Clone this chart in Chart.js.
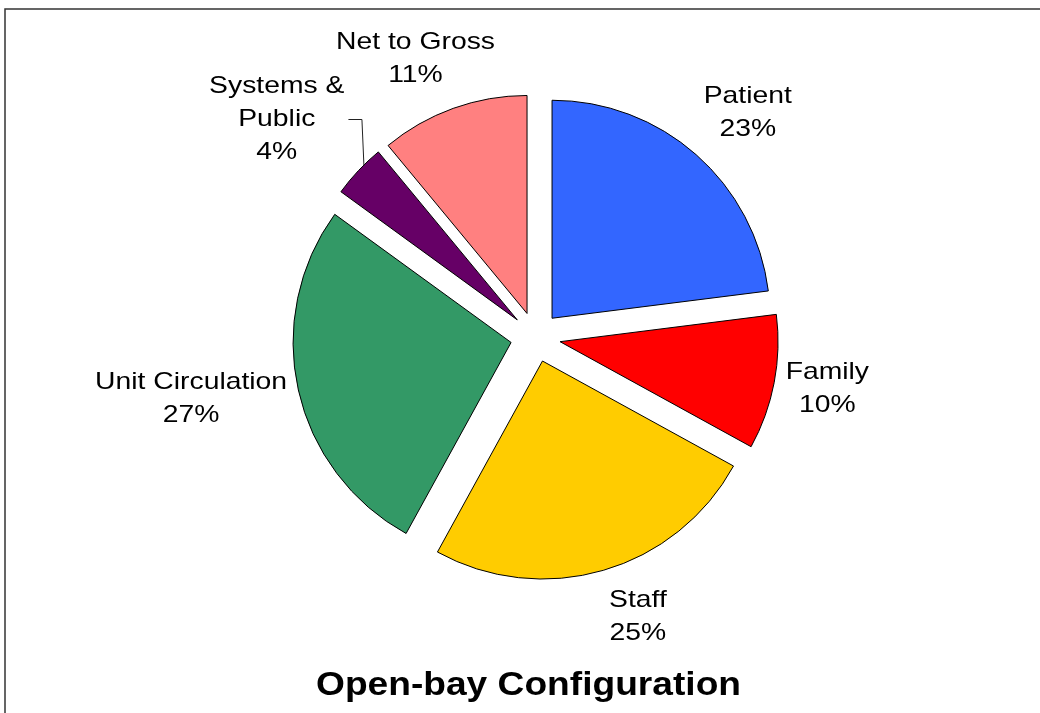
<!DOCTYPE html>
<html>
<head>
<meta charset="utf-8">
<title>Open-bay Configuration</title>
<script src="https://cdn.jsdelivr.net/npm/chart.js@4.4.1/dist/chart.umd.min.js"></script>
<style>
  html, body { margin: 0; padding: 0; background: #fff; overflow: hidden; }
  #wrap { position: relative; width: 1040px; height: 713px; }
</style>
</head>
<body>
<div id="wrap"><canvas id="pieChart"></canvas></div>
<script>
// slice data, clockwise from 12 o'clock
const categories = ["Patient", "Family", "Staff", "Unit Circulation", "Systems &\nPublic", "Net to Gross"];
const shares = [23, 10, 25, 27, 4, 11];
const sliceColors = ["#3366FF", "#FF0000", "#FFCC00", "#339966", "#660066", "#FF8080"];

const chartTitle = "Open-bay Configuration";

const EXPLODE = 25;      // how far each slice is pulled out
const LABEL_GAP = 9;     // space between slice edge and its label
const LINE_H = 33;
const STRETCH = 1.18;    // labels in the original are a bit wide
const LABEL_FONT = "24px 'Liberation Sans', Arial, sans-serif";
// small hand fixes to where the labels land (dx, dy)
const labelShift = [[10, 5], [-2, -4], [21, 0], [0, -15], [-3, 3], [-15, 14]];

// frame lines on the left and top
const framePlugin = {
  id: "frame",
  beforeDraw(chart) {
    const ctx = chart.ctx;
    ctx.save();
    ctx.strokeStyle = "#333";
    ctx.lineWidth = 1.5;
    ctx.beginPath();
    ctx.moveTo(5, chart.height);
    ctx.lineTo(5, 9);
    ctx.lineTo(chart.width, 9);
    ctx.stroke();
    ctx.restore();
  }
};

// draw every arc pulled out along its middle angle
const explodePlugin = {
  id: "explode",
  beforeDatasetDraw(chart, args) {
    const ctx = chart.ctx;
    args.meta.data.forEach(arc => {
      const mid = (arc.startAngle + arc.endAngle) / 2;
      ctx.save();
      ctx.translate(Math.cos(mid) * EXPLODE, Math.sin(mid) * EXPLODE);
      arc.draw(ctx);
      ctx.restore();
    });
    return false;
  }
};

function drawStretched(ctx, text, x, y, sx) {
  ctx.save();
  ctx.translate(x, y);
  ctx.scale(sx, 1);
  ctx.fillText(text, 0, 0);
  ctx.restore();
}

const labelPlugin = {
  id: "sliceLabels",
  afterDatasetsDraw(chart) {
    const ctx = chart.ctx;
    const meta = chart.getDatasetMeta(0);
    const total = shares.reduce((a, b) => a + b, 0);
    ctx.save();
    ctx.font = LABEL_FONT;
    ctx.fillStyle = "#000";
    ctx.textAlign = "center";
    ctx.textBaseline = "middle";
    meta.data.forEach((arc, i) => {
      const mid = (arc.startAngle + arc.endAngle) / 2;
      const cos = Math.cos(mid), sin = Math.sin(mid);
      const pct = shares[i] / total;
      const lines = categories[i].split("\n").concat([Math.round(pct * 100) + "%"]);
      const w = Math.max(...lines.map(l => ctx.measureText(l).width)) * STRETCH;
      const h = lines.length * LINE_H;
      let cx, cy;
      if (pct < 0.05) {
        // small slice: label sits up-left, joined by a leader line
        const a2 = mid + 0.03;
        const px = arc.x + Math.cos(a2) * EXPLODE + Math.cos(a2) * arc.outerRadius;
        const py = arc.y + Math.sin(a2) * EXPLODE + Math.sin(a2) * arc.outerRadius;
        cy = py - 49 + labelShift[i][1];
        cx = px - 16 - w / 2 + labelShift[i][0];
        const ly = Math.round(cy) + 0.5;
        ctx.save();
        ctx.strokeStyle = "#222";
        ctx.lineWidth = 1;
        ctx.beginPath();
        ctx.moveTo(px + 0.5, py);
        ctx.lineTo(px - 1.5, ly);
        ctx.lineTo(cx + w / 2 + 4, ly);
        ctx.stroke();
        ctx.restore();
      } else {
        const ext = Math.abs(cos) * w / 2 + Math.abs(sin) * h / 2;
        const dist = arc.outerRadius + EXPLODE + LABEL_GAP + ext;
        cx = arc.x + cos * dist + labelShift[i][0];
        cy = arc.y + sin * dist + labelShift[i][1];
      }
      lines.forEach((l, k) => {
        drawStretched(ctx, l, cx, cy - h / 2 + LINE_H * (k + 0.5), STRETCH);
      });
    });
    ctx.restore();
  },
  afterDraw(chart) {
    // title under the pie, wide bold type like the original
    const ctx = chart.ctx;
    ctx.save();
    ctx.font = "bold 33px 'Liberation Sans', Arial, sans-serif";
    ctx.fillStyle = "#000";
    ctx.textAlign = "center";
    ctx.textBaseline = "alphabetic";
    const w = ctx.measureText(chartTitle).width;
    drawStretched(ctx, chartTitle, 528.5, 695, 425 / w);
    ctx.restore();
  }
};

const ctx = document.getElementById("pieChart").getContext("2d");
new Chart(ctx, {
  type: "pie",
  data: {
    labels: categories,
    datasets: [{
      data: shares,
      backgroundColor: sliceColors,
      borderColor: "#000",
      borderWidth: 1
    }]
  },
  options: {
    responsive: true,
    maintainAspectRatio: false,
    animation: false,
    radius: 218,
    layout: { padding: { left: 31, right: 0, top: 7, bottom: 46 } },
    plugins: {
      legend: { display: false },
      tooltip: { enabled: false },
      title: { display: false }
    }
  },
  plugins: [framePlugin, explodePlugin, labelPlugin]
});
</script>
</body>
</html>
